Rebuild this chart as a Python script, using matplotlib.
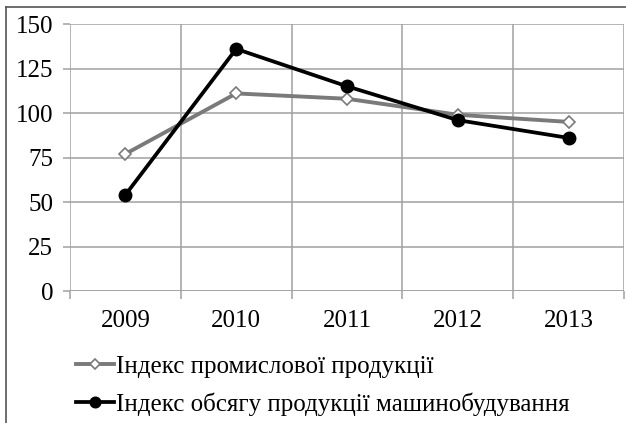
import numpy as np
import matplotlib.pyplot as plt
from matplotlib.lines import Line2D

years = ['2009', '2010', '2011', '2012', '2013']
industrial_index = [77, 111, 108, 99, 95]
machinery_index = [54, 136, 115, 96, 86]
label_industrial = 'Індекс промислової продукції'
label_machinery = 'Індекс обсягу продукції машинобудування'

plt.rcParams['font.family'] = ['Liberation Serif', 'DejaVu Serif']

fig = plt.figure(figsize=(6.26, 4.23), dpi=100)
ax = fig.add_axes([70 / 626, 1 - 291 / 423, 554 / 626, 267 / 423])

x = np.arange(len(years))
grid_col = '#a0a0a0'

l1, = ax.plot(x, industrial_index, color='#7a7a7a', lw=2.8, marker='D',
              ms=6.5, mfc='white', mec='#7a7a7a', mew=1.2, zorder=3)
l2, = ax.plot(x, machinery_index, color='black', lw=2.7, marker='o',
              ms=9, mfc='black', mec='black', zorder=4)

ax.set_xlim(-0.5, len(years) - 0.5)
ax.set_ylim(0, 150)
ax.set_yticks(range(0, 151, 25))
ax.set_xticks(x)
ax.set_xticklabels(years)
ax.set_xticks(np.arange(-0.5, len(years)), minor=True)

ax.grid(True, which='major', axis='y', color=grid_col, lw=1.1)
ax.grid(True, which='minor', axis='x', color=grid_col, lw=1.1)
for s in ax.spines.values():
    s.set_visible(False)
ax.axhline(0, color=grid_col, lw=1.1, zorder=2)

ax.tick_params(axis='x', which='major', length=0, pad=14, labelsize=18)
ax.tick_params(axis='x', which='minor', length=6, color=grid_col, width=1.1)
ax.tick_params(axis='y', length=5, color=grid_col, width=1.1, pad=7, labelsize=18)

leg = fig.legend([l1, l2], [label_industrial, label_machinery],
                 loc='upper left', bbox_to_anchor=(76 / 626, 1 - 355 / 423),
                 frameon=False, fontsize=18, handlelength=1.5,
                 handletextpad=0.1, labelspacing=0.6, markerscale=0.85,
                 borderpad=0, borderaxespad=0)

# outer frame (left and top edges visible in the original)
fig.add_artist(Line2D([5.5 / 626, 5.5 / 626], [0, 1 - 7 / 423],
                      transform=fig.transFigure, color='#555555', lw=1.2))
fig.add_artist(Line2D([5.5 / 626, 1], [1 - 7 / 423, 1 - 7 / 423],
                      transform=fig.transFigure, color='#555555', lw=1.2))

fig.savefig('out.png', dpi=100)
